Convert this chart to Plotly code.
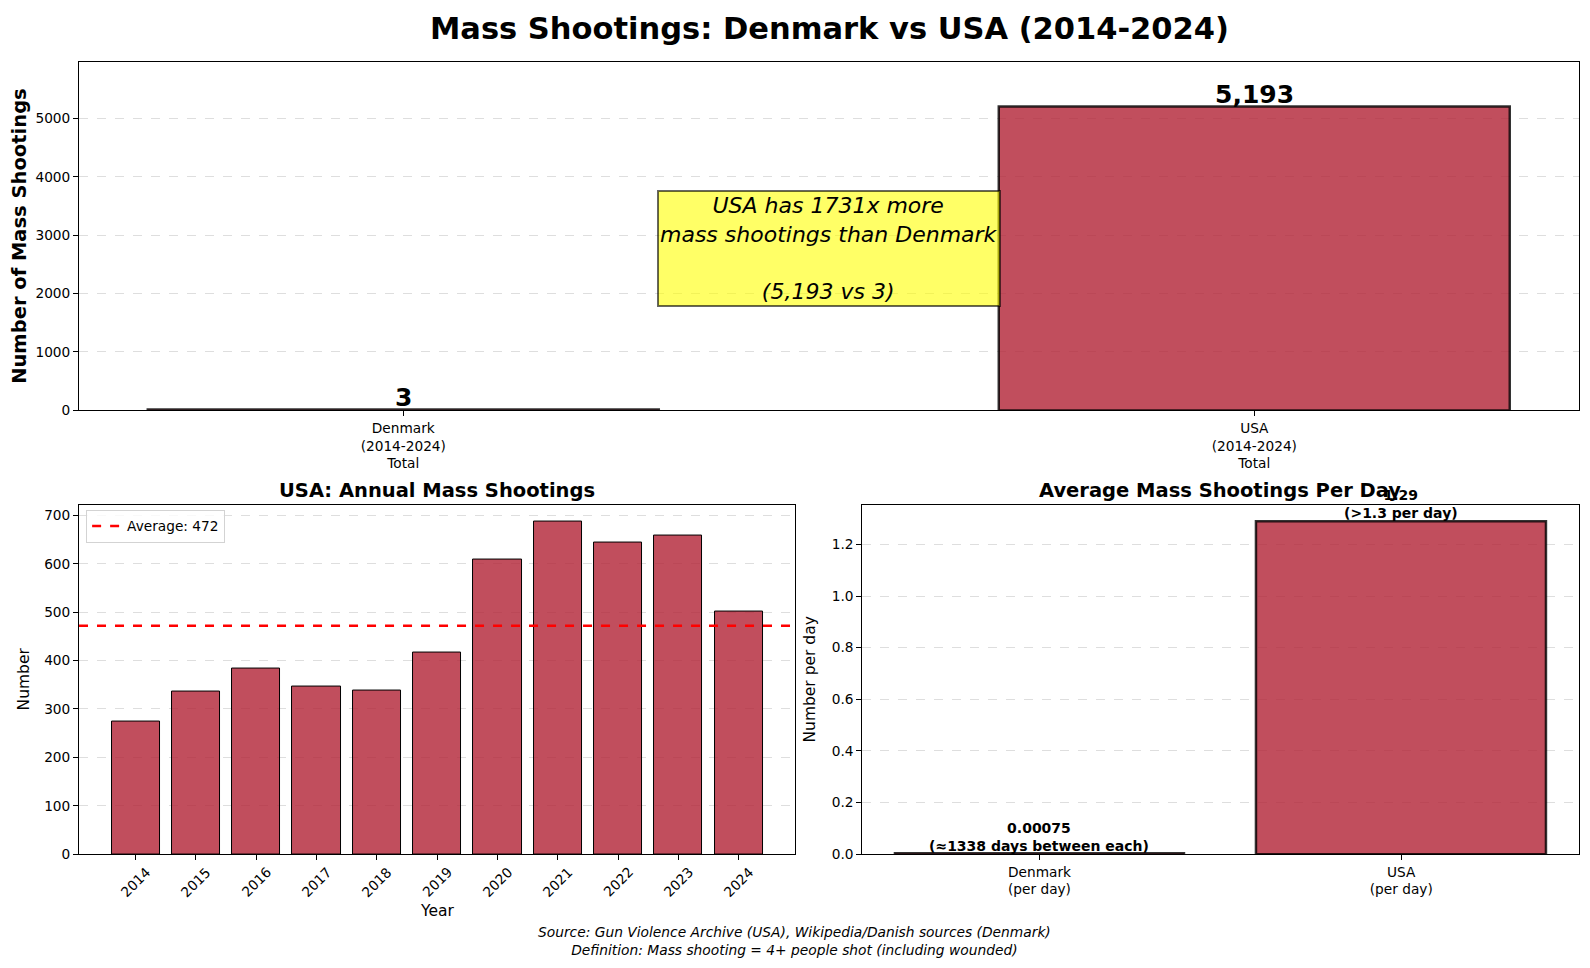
import plotly.graph_objects as go

# data
countries = ["Denmark", "USA"]
total_labels = ["Denmark<br>(2014-2024)<br>Total", "USA<br>(2014-2024)<br>Total"]
totals = [3, 5193]

years = ["2014", "2015", "2016", "2017", "2018", "2019", "2020", "2021", "2022", "2023", "2024"]
usa_annual = [273, 335, 383, 347, 337, 416, 609, 688, 644, 659, 502]

per_day_labels = ["Denmark<br>(per day)", "USA<br>(per day)"]
per_day = [0.00075, 1.29]
per_day_notes = ["(≈1338 days between each)", "(>1.3 per day)"]

FONT = "DejaVu Sans"
USA_RED = "rgba(178,34,52,0.8)"
DK_RED = "rgba(198,12,48,0.8)"
EDGE = "rgba(0,0,0,0.8)"

# the page shows up slightly scaled and offset by the body margin,
# so layout positions are given in screen pixels and converted here
S = 0.987
W, H = 1592, 962


def fx(px):
    return (px / S - 8) / W


def fy(py):
    return 1 - (py / S - 8) / H


avg = sum(usa_annual) / len(usa_annual)
ratio = totals[1] / totals[0]

fig = go.Figure()

# top: totals
fig.add_trace(go.Bar(
    x=[0, 1], y=totals, width=0.6,
    marker=dict(color=[DK_RED, USA_RED], line=dict(color=EDGE, width=2.5)),
    xaxis="x", yaxis="y", showlegend=False,
))

# bottom left: annual
fig.add_trace(go.Bar(
    x=list(range(len(years))), y=usa_annual, width=0.8,
    marker=dict(color=USA_RED, line=dict(color="black", width=1)),
    xaxis="x2", yaxis="y2", showlegend=False,
))
fig.add_trace(go.Scatter(
    x=[-0.94, len(years) - 0.06], y=[avg, avg], mode="lines",
    line=dict(color="red", width=2.5, dash="dash"),
    name=f"Average: {avg:.0f}", xaxis="x2", yaxis="y2", showlegend=True,
))

# bottom right: per day
fig.add_trace(go.Bar(
    x=[0, 1], y=per_day, width=0.8,
    marker=dict(color=[DK_RED, USA_RED], line=dict(color=EDGE, width=2.5)),
    xaxis="x3", yaxis="y3", showlegend=False,
))

axis_common = dict(
    showline=True, mirror=True, linecolor="black", linewidth=1,
    ticks="outside", ticklen=5, tickcolor="black",
    tickfont=dict(family=FONT, size=13.7, color="black"),
    zeroline=False,
)
grid = dict(showgrid=True, gridcolor="rgba(200,200,200,0.6)", griddash="dash", gridwidth=1)

annotations = []
for i, v in enumerate(totals):
    annotations.append(dict(
        x=i, y=v, xref="x", yref="y", text=f"<b>{v:,}</b>", showarrow=False,
        yanchor="bottom", yshift=-4, font=dict(family=FONT, size=25, color="black"),
    ))
for i, v in enumerate(per_day):
    label = f"{v:.5f}".rstrip("0") if v < 0.01 else f"{v:.2f}"
    annotations.append(dict(
        x=i, y=v, xref="x3", yref="y3", text=f"<b>{label}<br>{per_day_notes[i]}</b>",
        showarrow=False, yanchor="bottom", yshift=-2,
        font=dict(family=FONT, size=14, color="black"),
    ))

# rotated year labels, centred on their ticks
for i, yr in enumerate(years):
    annotations.append(dict(
        x=i, y=0, xref="x2", yref="y2 domain", text=yr, textangle=-45,
        showarrow=False, xanchor="center", yanchor="top", yshift=-7,
        font=dict(family=FONT, size=13.7, color="black"),
    ))

annotations.append(dict(
    x=0.5, y=2780, xref="x", yref="y",
    text=f"<i>USA has {ratio:.0f}x more<br>mass shootings than Denmark<br><br>({totals[1]:,} vs {totals[0]})</i>",
    showarrow=False, font=dict(family=FONT, size=22, color="black"),
    bgcolor="rgba(255,255,0,0.6)", bordercolor="rgba(0,0,0,0.6)", borderwidth=2, borderpad=1,
))
annotations.append(dict(
    x=fx(819), y=1 - 1 / H, xref="paper", yref="paper", xanchor="center", yanchor="top",
    text="<b>Mass Shootings: Denmark vs USA (2014-2024)</b>", showarrow=False,
    font=dict(family=FONT, size=30.5, color="black"),
))
annotations.append(dict(
    x=(fx(78) + fx(785)) / 2, y=fy(484), xref="paper", yref="paper",
    xanchor="center", yanchor="middle",
    text="<b>USA: Annual Mass Shootings</b>", showarrow=False,
    font=dict(family=FONT, size=19.5, color="black"),
))
annotations.append(dict(
    x=(fx(851) + fx(1558)) / 2, y=fy(484), xref="paper", yref="paper",
    xanchor="center", yanchor="middle",
    text="<b>Average Mass Shootings Per Day</b>", showarrow=False,
    font=dict(family=FONT, size=19.5, color="black"),
))
annotations.append(dict(
    x=(fx(78) + fx(785)) / 2, y=fy(899), xref="paper", yref="paper",
    xanchor="center", yanchor="middle",
    text="Year", showarrow=False, font=dict(family=FONT, size=15.5, color="black"),
))
annotations.append(dict(
    x=fx(784), y=fy(929), xref="paper", yref="paper", xanchor="center", yanchor="middle",
    text="<i>Source: Gun Violence Archive (USA), Wikipedia/Danish sources (Denmark)<br>Definition: Mass shooting = 4+ people shot (including wounded)</i>",
    showarrow=False, font=dict(family=FONT, size=13.8, color="black"),
))

fig.update_layout(
    width=W, height=H,
    margin=dict(l=0, r=0, t=0, b=0, autoexpand=False),
    plot_bgcolor="white", paper_bgcolor="white",
    font=dict(family=FONT, color="black"),
    bargap=0,
    xaxis=dict(domain=[fx(78), fx(1558)], anchor="y", range=[-0.381, 1.381],
               tickvals=[0, 1], ticktext=total_labels, showgrid=False, **axis_common),
    yaxis=dict(domain=[fy(405), fy(61)], anchor="x", range=[0, totals[1] * 1.15],
               tickvals=[0, 1000, 2000, 3000, 4000, 5000], tickformat="d",
               title=dict(text="<b>Number of Mass Shootings</b>", font=dict(family=FONT, size=19.5), standoff=14),
               **grid, **axis_common),
    xaxis2=dict(domain=[fx(78), fx(785)], anchor="y2", range=[-0.94, len(years) - 0.06],
                tickvals=list(range(len(years))), showticklabels=False, showgrid=False,
                **axis_common),
    yaxis2=dict(domain=[fy(843), fy(498)], anchor="x2", range=[0, max(usa_annual) * 1.05],
                dtick=100, title=dict(text="Number", font=dict(family=FONT, size=15.5), standoff=10),
                **grid, **axis_common),
    xaxis3=dict(domain=[fx(851), fx(1558)], anchor="y3", range=[-0.49, 1.49],
                tickvals=[0, 1], ticktext=per_day_labels, showgrid=False, **axis_common),
    yaxis3=dict(domain=[fy(843), fy(498)], anchor="x3", range=[0, max(per_day) * 1.05],
                dtick=0.2, tickformat=".1f",
                title=dict(text="Number per day", font=dict(family=FONT, size=15.5), standoff=12),
                **grid, **axis_common),
    legend=dict(x=fx(85), y=fy(503), xanchor="left", yanchor="top",
                bgcolor="rgba(255,255,255,0.8)", bordercolor="lightgray", borderwidth=1,
                font=dict(family=FONT, size=13.7, color="black")),
    annotations=annotations,
)

fig.write_html("out.html")
